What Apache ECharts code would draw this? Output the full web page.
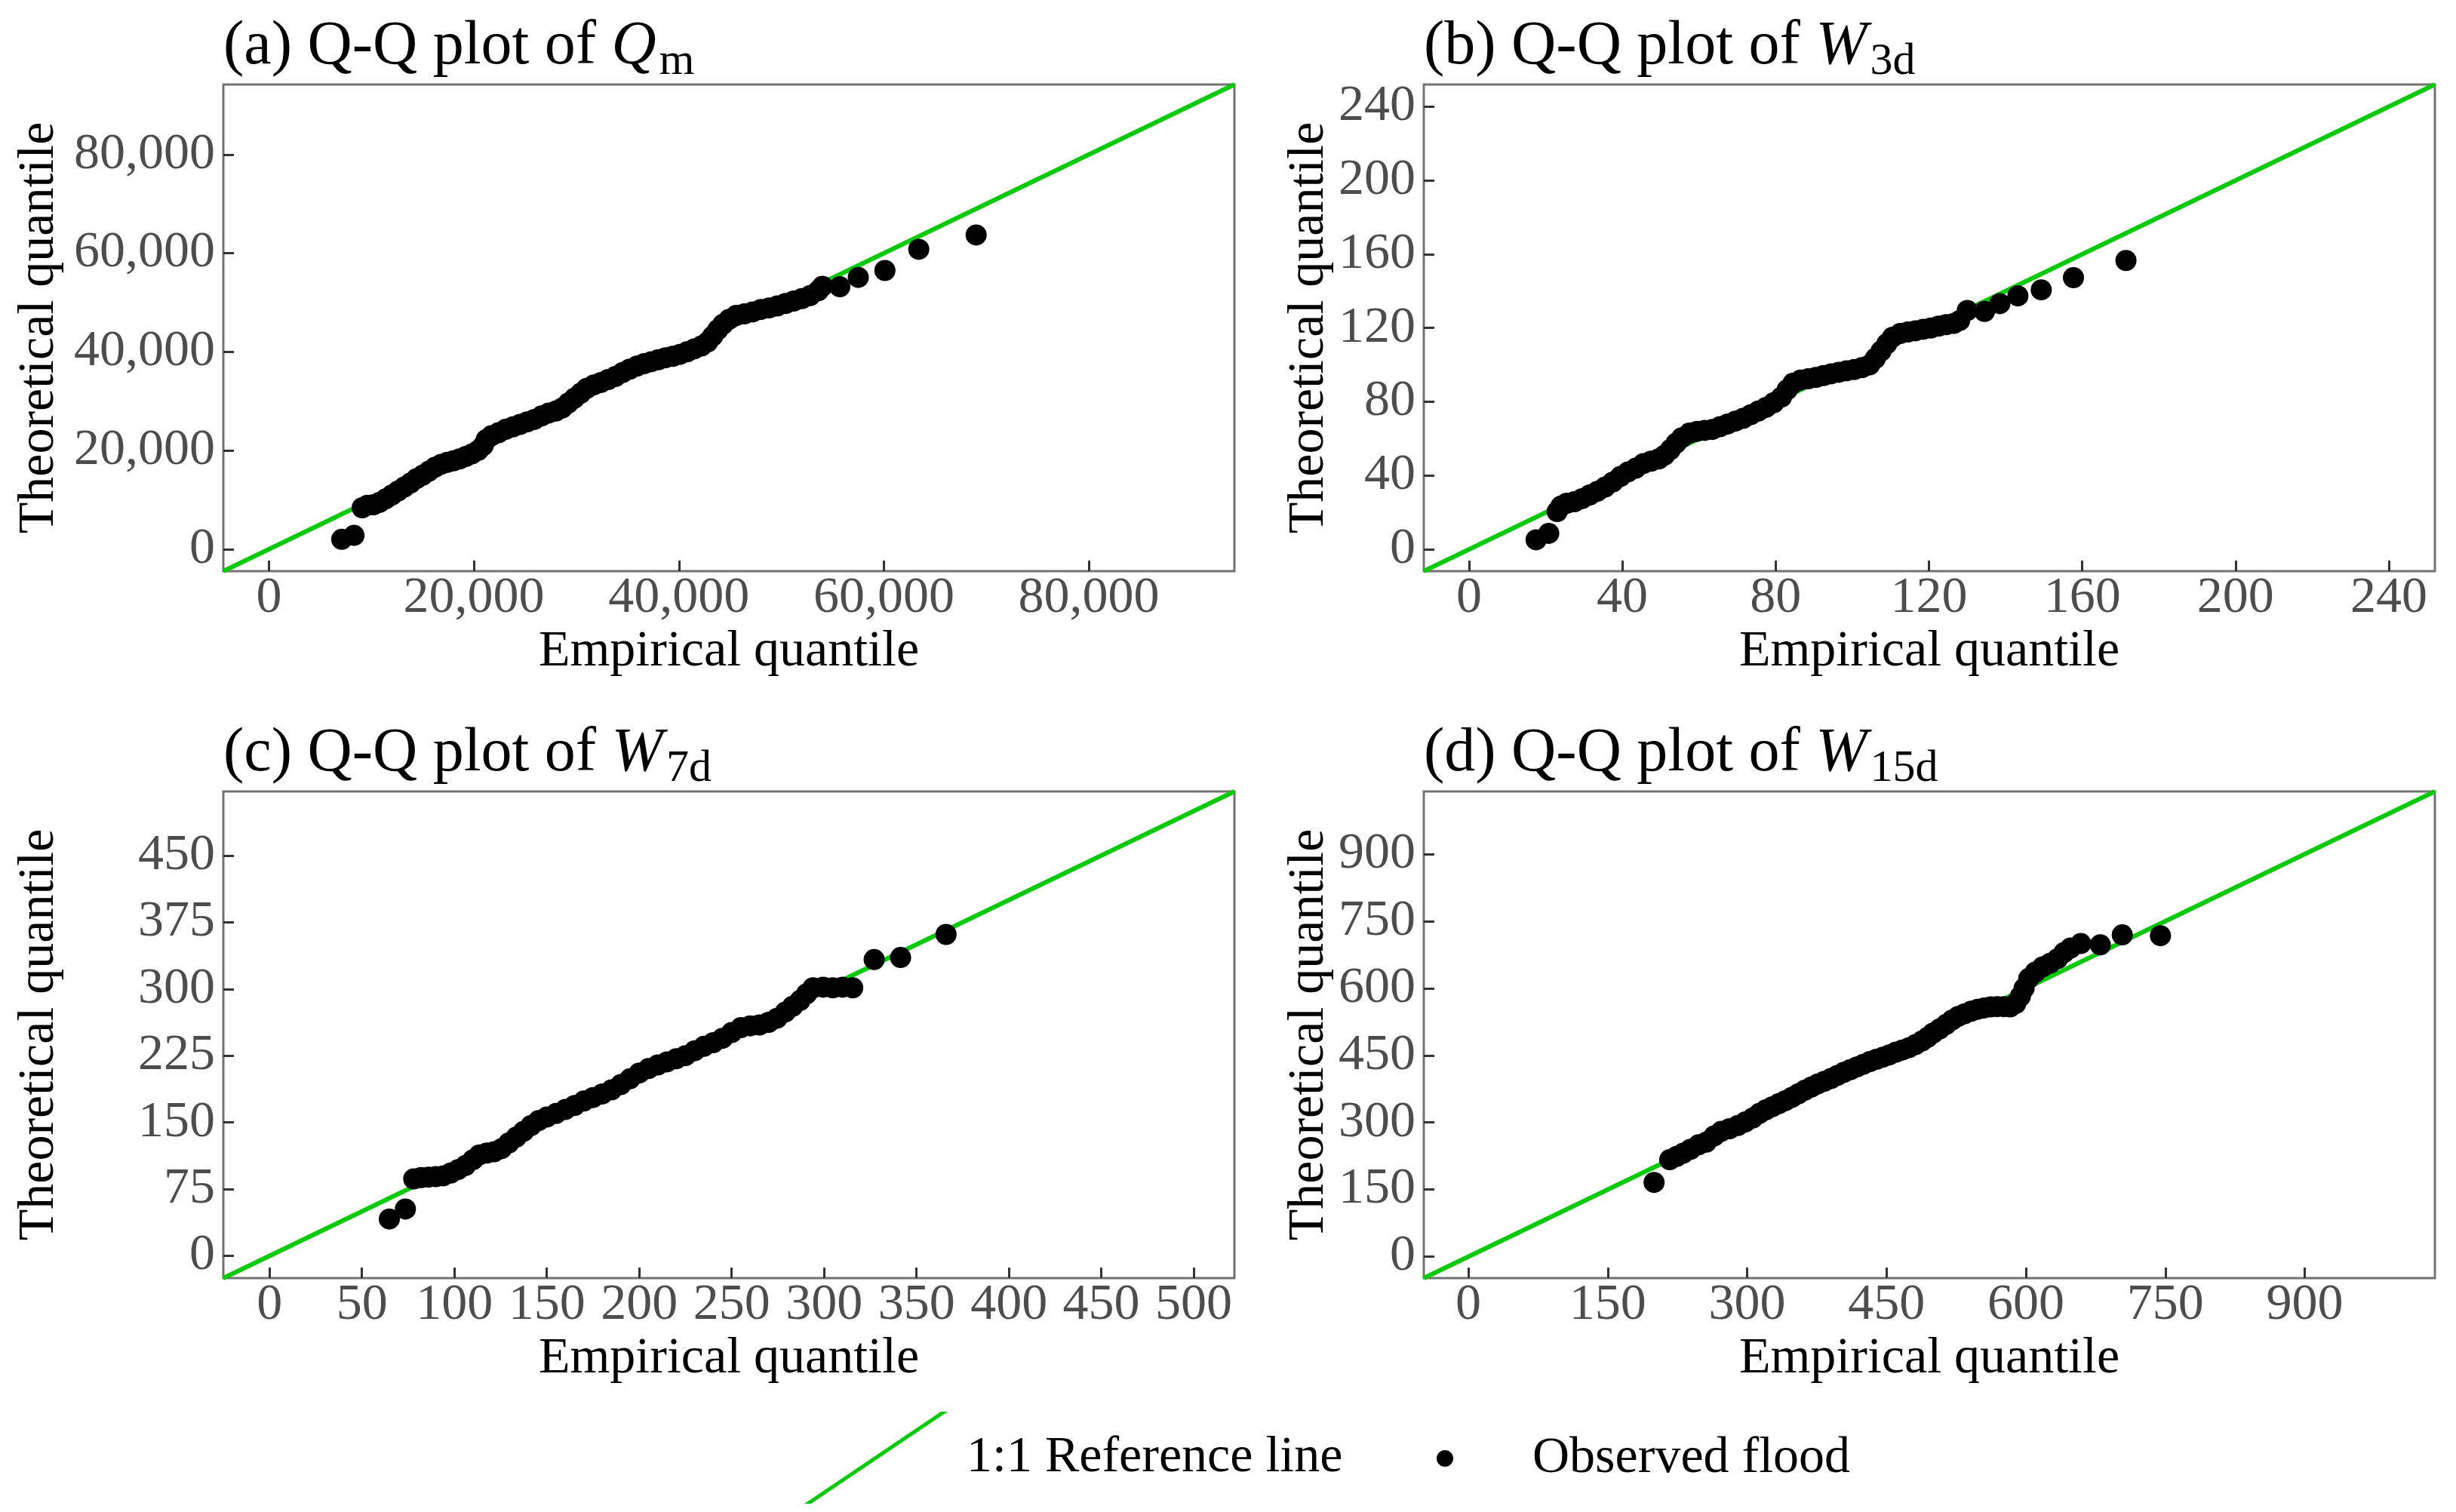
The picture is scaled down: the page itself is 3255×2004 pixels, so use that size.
<!DOCTYPE html>
<html lang="en">
<head>
<meta charset="UTF-8">
<style>
    html,
    body {
        height: 100%;
        margin: 0;
        background: #fff;
    }
</style>
</head>
<body>
<div id="chart" style="width:100%;height:100%;"></div>
<script src="https://cdn.jsdelivr.net/npm/echarts@6.0.0/dist/echarts.min.js"></script>
<script>
// panel titles
var panelPrefix = ['(a) Q-Q plot of ', '(b) Q-Q plot of ', '(c) Q-Q plot of ', '(d) Q-Q plot of '];
var panelVar = ['Q', 'W', 'W', 'W'];
var panelSub = ['m', '3d', '7d', '15d'];

// axis ranges (x and y share the same range, so the 1:1 line runs corner to corner)
var axisRange = [[-4450, 94200], [-11.8, 252], [-25, 522], [-48, 1040]];

// tick labels
var xTicks = [
    [0, 20000, 40000, 60000, 80000],
    [0, 40, 80, 120, 160, 200, 240],
    [0, 50, 100, 150, 200, 250, 300, 350, 400, 450, 500],
    [0, 150, 300, 450, 600, 750, 900]
];
var yTicks = [
    [0, 20000, 40000, 60000, 80000],
    [0, 40, 80, 120, 160, 200, 240],
    [0, 75, 150, 225, 300, 375, 450],
    [0, 150, 300, 450, 600, 750, 900]
];

// observed floods: [empirical, theoretical]
var qmObs = [
    [7100, 2000], [8300, 2800],
    [9100, 8400], [9600, 8900], [10200, 9000], [10800, 9500], [11400, 10200], [12000, 11000],
    [12600, 11800], [13200, 12600], [13800, 13400], [14400, 14300], [15000, 15000], [15600, 15800],
    [16200, 16600], [16800, 17200], [17400, 17600], [18000, 17900], [18600, 18300], [19200, 18800],
    [19800, 19300], [20400, 20000], [20900, 21000], [21200, 22200], [21700, 23000], [22400, 23600],
    [23100, 24300], [23800, 24800], [24500, 25300], [25200, 25800], [25900, 26300], [26600, 27000],
    [27300, 27600], [28000, 28000], [28600, 28600], [29200, 29600], [29800, 30600], [30400, 31600],
    [31000, 32600], [31700, 33300], [32400, 33800], [33100, 34400], [33800, 35000], [34500, 35800],
    [35200, 36500], [35900, 37100], [36600, 37600], [37300, 38000], [38000, 38400], [38700, 38800],
    [39400, 39100], [40100, 39500], [40800, 40000], [41500, 40600], [42200, 41200], [42800, 42000],
    [43300, 43200], [43800, 44500], [44300, 45600], [44900, 46600], [45600, 47400], [46400, 47700],
    [47200, 48100], [48000, 48600], [48800, 48900], [49600, 49300], [50400, 49800], [51200, 50300],
    [52000, 50800], [52800, 51400], [53600, 52400], [54000, 53300], [55700, 53200], [57500, 55100],
    [60100, 56500], [63400, 60800], [69000, 63700]
];
var w3dObs = [
    [17.5, 5.2], [20.8, 8.7],
    [23.0, 20.5], [24.0, 23.5], [25.5, 25.0], [27.5, 25.8], [29.5, 27.5], [31.5, 29.5], [33.5, 31.5],
    [35.5, 33.8], [37.5, 36.5], [39.5, 39.5], [41.5, 42.0], [43.5, 44.0], [45.5, 46.5], [47.5, 47.8],
    [49.5, 49.0], [51.0, 51.0], [52.5, 54.0], [54.0, 57.5], [55.5, 60.5], [57.5, 63.0], [59.5, 64.0],
    [61.5, 64.5], [63.5, 65.0], [65.5, 66.5], [67.5, 68.0], [69.5, 69.5], [71.5, 71.0], [73.5, 73.0],
    [75.5, 75.0], [77.5, 77.0], [79.5, 79.5], [81.5, 82.5], [83.0, 86.5], [84.5, 90.0], [86.5, 91.8],
    [88.5, 92.5], [90.5, 93.2], [92.5, 94.2], [94.5, 95.2], [96.5, 96.0], [98.5, 96.8], [100.5, 97.5],
    [102.5, 98.5], [104.5, 100.0], [106.0, 103.5], [107.5, 107.5], [109.0, 111.5], [110.5, 115.0],
    [112.5, 117.0], [114.5, 117.8], [116.5, 118.5], [118.5, 119.3], [120.5, 120.0], [122.5, 121.0],
    [124.5, 121.8], [126.5, 122.5], [128.0, 124.0], [130.0, 129.5], [134.5, 129.0], [138.5, 133.2],
    [143.2, 137.4], [149.3, 140.7], [157.7, 147.3], [171.4, 156.6]
];
var w7dObs = [
    [64.8, 41.4], [73.5, 52.7],
    [78.0, 86.5], [82.0, 88.0], [86.0, 88.5], [90.0, 89.0], [94.0, 90.0], [98.0, 93.0], [102.0, 97.0],
    [106.0, 101.5], [110.0, 108.0], [113.5, 113.5], [117.5, 115.5], [121.5, 117.0], [125.5, 120.5],
    [129.5, 127.0], [133.5, 133.5], [137.5, 140.0], [141.5, 146.5], [145.5, 152.0], [150.0, 156.0],
    [155.0, 160.0], [160.0, 164.5], [165.0, 169.0], [170.0, 174.0], [175.0, 178.0], [180.0, 182.0],
    [185.0, 186.5], [190.0, 192.5], [195.0, 199.0], [200.0, 205.5], [205.0, 210.5], [210.0, 214.5],
    [215.0, 218.0], [220.0, 221.5], [225.0, 225.0], [230.0, 230.5], [235.0, 235.5], [240.0, 239.5],
    [245.0, 244.5], [250.0, 251.0], [255.0, 256.5], [260.0, 258.5], [265.0, 259.5], [270.0, 262.5],
    [274.5, 267.0], [279.0, 274.0], [283.0, 280.5], [287.0, 287.0], [290.5, 294.5], [294.0, 301.3],
    [299.5, 302.0], [304.7, 301.3], [310.0, 302.0], [315.5, 301.3], [327.1, 333.0], [341.4, 335.4],
    [366.0, 361.3]
];
var w15dObs = [
    [199.8, 166], [216.6, 216.7], [224, 224], [231, 231], [239, 240], [247.7, 250], [256, 256],
    [264.5, 270], [272, 280], [281, 286], [290, 293], [298, 301], [306, 310], [313, 320], [320, 328],
    [327, 335], [334, 342], [341, 348.5], [348, 356], [355, 364], [362, 372], [369, 379], [376, 386],
    [383, 392], [390, 398], [397, 405], [404, 412], [411, 418], [418, 424], [425, 430], [432, 436],
    [439, 441], [446, 446], [453, 451], [460, 457], [467, 462], [474, 467], [481, 474], [488, 482],
    [494, 490], [500, 499.8], [507, 509], [514, 519], [520.6, 529], [527, 537], [534, 543], [541, 548.6],
    [548, 553], [555, 556], [562, 558.4], [569, 559], [576, 559], [583, 558.4], [589, 566], [594, 582],
    [598, 600], [603, 622], [610, 636], [618, 648], [626, 656], [634, 666], [641, 680], [648, 690],
    [659, 700], [680, 697], [703.6, 719.4], [744.7, 717.5]
];
var observed = [qmObs, w3dObs, w7dObs, w15dObs];

var lineName = '1:1 Reference line';
var pointName = 'Observed flood';

var FONT = 'Liberation Serif';
var GREEN = '#0ac80a';
var gridPos = [[296, 112], [1887, 112], [296, 1049], [1887, 1049]];
var gridW = 1340, gridH = 645;
// left column has wider tick labels, so its y title sits further out
var yNameGap = [210, 118, 210, 118];

function fmt(v) {
    return v.toLocaleString('en-US');
}

function makeAxis(i, ticks, isY) {
    return {
        type: 'value',
        gridIndex: i,
        min: axisRange[i][0],
        max: axisRange[i][1],
        name: isY ? 'Theoretical quantile' : 'Empirical quantile',
        nameLocation: 'middle',
        nameRotate: isY ? 90 : 0,
        nameGap: isY ? yNameGap[i] : 73,
        nameTextStyle: {fontFamily: FONT, fontSize: 68, color: '#000'},
        axisLine: {show: false, onZero: false},
        axisTick: {
            show: true, inside: true, length: 14, customValues: ticks,
            lineStyle: {color: '#333', width: 3}
        },
        axisLabel: {
            customValues: ticks, margin: isY ? 11 : 2,
            fontFamily: FONT, fontSize: 68, color: '#4d4d4d',
            formatter: fmt
        },
        splitLine: {show: false}
    };
}

var grids = [], xAxes = [], yAxes = [], titles = [], series = [];
for (var i = 0; i < 4; i++) {
    grids.push({
        left: gridPos[i][0], top: gridPos[i][1], width: gridW, height: gridH,
        show: true, borderColor: '#737373', borderWidth: 3, backgroundColor: 'transparent'
    });
    xAxes.push(makeAxis(i, xTicks[i], false));
    yAxes.push(makeAxis(i, yTicks[i], true));
    titles.push({
        left: gridPos[i][0], top: gridPos[i][1] - 100, padding: 0,
        text: '{n|' + panelPrefix[i] + '}{v|' + panelVar[i] + '}{s|' + panelSub[i] + '}',
        textStyle: {
            fontFamily: FONT, fontWeight: 'normal',
            rich: {
                n: {fontFamily: FONT, fontSize: 82, color: '#000'},
                v: {fontFamily: FONT, fontSize: 82, color: '#000', fontStyle: 'italic'},
                s: {fontFamily: FONT, fontSize: 60, color: '#000', padding: [40, 0, 0, 4]}
            }
        }
    });
    var r = axisRange[i];
    series.push({
        name: lineName, type: 'line', xAxisIndex: i, yAxisIndex: i,
        data: [[r[0], r[0]], [r[1], r[1]]],
        symbol: 'none', silent: true, z: 2,
        itemStyle: {color: GREEN},
        lineStyle: {color: GREEN, width: 6}
    });
    series.push({
        name: pointName, type: 'scatter', xAxisIndex: i, yAxisIndex: i,
        data: observed[i], symbolSize: 28, z: 3,
        itemStyle: {color: '#000', opacity: 1}
    });
}

var myChart = echarts.init(document.getElementById('chart'));
myChart.setOption({
    animation: false,
    backgroundColor: '#fff',
    title: titles,
    grid: grids,
    xAxis: xAxes,
    yAxis: yAxes,
    legend: [
        {
            data: [{name: lineName, icon: 'path://M0,122 L181,0 L190,0 L9,122 Z', itemStyle: {color: GREEN}}],
            left: 1066, top: 1871, padding: 0,
            itemWidth: 190, itemHeight: 122, selectedMode: false,
            textStyle: {fontFamily: FONT, fontSize: 68, color: '#000', padding: [0, 0, 0, 20]}
        },
        {
            data: [{name: pointName, icon: 'circle', itemStyle: {color: '#000'}}],
            left: 1904, top: 1899, padding: 0,
            itemWidth: 22, itemHeight: 22, selectedMode: false,
            textStyle: {fontFamily: FONT, fontSize: 68, color: '#000', padding: [0, 0, 0, 100]}
        }
    ],
    series: series
});
</script>
</body>
</html>
